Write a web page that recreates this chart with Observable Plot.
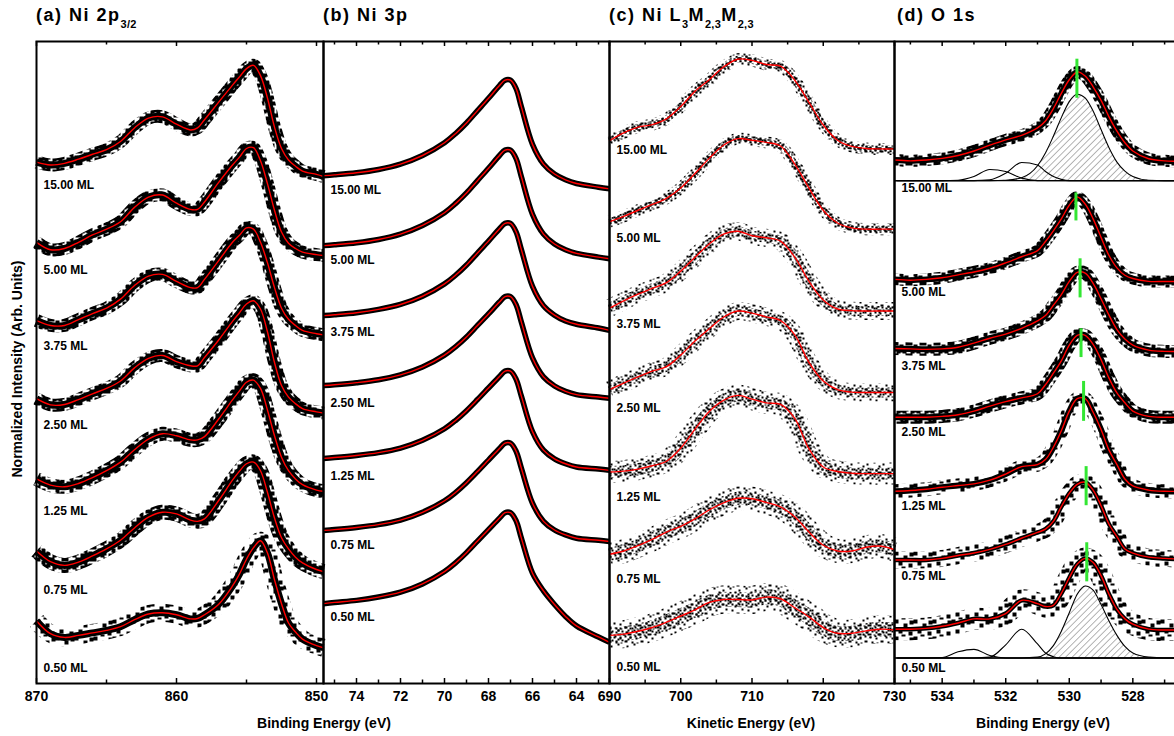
<!DOCTYPE html>
<html><head><meta charset="utf-8">
<script src="https://cdn.jsdelivr.net/npm/d3@7"></script>
<script src="https://cdn.jsdelivr.net/npm/@observablehq/plot@0.6"></script>
<style>
body{margin:0;background:#fff;font-family:"Liberation Sans",Arial,sans-serif;}
#root{position:relative;width:1174px;height:736px;overflow:hidden;background:#fff;}
.panel{position:absolute;top:41px;}
.t{position:absolute;top:5px;font-weight:bold;font-size:18px;line-height:20px;letter-spacing:1.5px;white-space:nowrap;color:#000;}
.t .sub{font-size:11px;position:relative;top:7px;letter-spacing:0.3px;}
.xt{position:absolute;top:715px;font-weight:bold;font-size:14px;line-height:16px;white-space:nowrap;transform:translateX(-50%);color:#000;}
.yt{position:absolute;left:17px;top:369px;font-weight:bold;font-size:14px;white-space:nowrap;transform:translate(-50%,-50%) rotate(-90deg);color:#000;}
</style></head>
<body><div id="root">
<div class="t" style="left:36px">(a) Ni 2p<span class="sub">3/2</span></div>
<div class="t" style="left:323px">(b) Ni 3p</div>
<div class="t" style="left:609px">(c) Ni L<span class="sub">3</span>M<span class="sub">2,3</span>M<span class="sub">2,3</span></div>
<div class="t" style="left:897px">(d) O 1s</div>
<div class="xt" style="left:324px">Binding Energy (eV)</div>
<div class="xt" style="left:751px">Kinetic Energy (eV)</div>
<div class="xt" style="left:1043px">Binding Energy (eV)</div>
<div class="yt">Normalized Intensity (Arb. Units)</div>
</div>
<script>
// ---------------- DATA ----------------
const coverage = ["15.00 ML","5.00 ML","3.75 ML","2.50 ML","1.25 ML","0.75 ML","0.50 ML"];

// (a) Ni 2p3/2 — binding energy (eV) and stacked intensities (arb. units)
const aEnergy = [870,869,868,867,866,865,864,863,862,861,860,859,858.5,858,857,856,855.5,855,854.5,854,853.5,853,852.5,852,851.5,851,850,849.5];
const aML1500 = [1267,1260,1264,1274,1286,1297,1317,1350,1374,1377,1359,1345,1350,1370,1412,1454,1474,1494,1502,1477,1422,1352,1300,1272,1257,1245,1237,1232];
const aML500  = [1072,1054,1057,1072,1090,1104,1122,1157,1182,1187,1167,1152,1152,1170,1217,1260,1279,1300,1302,1270,1214,1150,1097,1070,1057,1048,1042,1040];
const aML375  = [882,870,870,884,899,912,934,967,990,994,977,962,962,982,1027,1072,1089,1107,1104,1072,1022,962,912,885,870,858,850,847];
const aML250  = [692,677,678,690,704,717,735,767,790,797,782,772,772,792,834,880,901,922,930,910,854,780,724,696,680,668,660,657];
const aML125  = [497,482,478,486,500,517,538,568,594,607,602,592,592,600,642,689,711,732,737,717,664,602,550,517,497,483,470,467];
const aML075  = [322,296,287,295,310,327,348,378,404,416,412,397,394,400,444,494,516,534,538,517,464,402,354,327,307,293,277,272];
const aML050  = [152,121,112,117,123,129,138,155,169,172,167,157,158,167,192,237,266,302,330,347,317,252,194,147,125,108,92,87];

// (b) Ni 3p
const bEnergy = [75.5,75,74,73,72,71,70,69.5,69,68.5,68,67.5,67.25,67,66.75,66.5,66,65.5,65,64.5,64,63,62.5];
const bML1500 = [1234,1236,1241,1249,1262,1283,1314,1336,1362,1392,1422,1453,1466,1466,1446,1400,1310,1262,1238,1224,1215,1206,1202];
const bML500  = [1064,1066,1071,1079,1092,1113,1144,1166,1192,1222,1252,1283,1296,1296,1276,1230,1140,1092,1068,1054,1045,1036,1032];
const bML375  = [894,896,901,909,921,941,971,992,1017,1046,1075,1105,1118,1118,1098,1053,965,918,895,881,873,864,858];
const bML250  = [724,726,731,738,750,769,798,818,842,870,898,927,940,940,921,877,791,745,723,710,702,696,693];
const bML125  = [547,549,554,561,572,591,619,639,663,690,718,746,759,759,740,697,612,567,546,534,526,521,518];
const bML075  = [372,374,379,386,397,416,444,464,488,515,543,571,584,584,565,522,438,394,373,361,353,348,345];
const bML050  = [194,197,202,210,222,242,272,293,318,346,374,402,415,415,396,352,268,225,192,163,140,113,100];

// (c) Ni L3M2,3M2,3 — kinetic energy (eV)
const cEnergy = [690,692,694,696,698,700,702,704,706,708,710,712,714,716,718,720,722,724,726,728,730];
const cML1500 = [1319,1338,1352,1358,1372,1402,1439,1467,1498,1517,1514,1504,1500,1466,1412,1357,1320,1305,1300,1299,1299];
const cML500  = [1122,1135,1150,1164,1179,1204,1239,1276,1308,1324,1320,1315,1306,1262,1204,1150,1119,1107,1104,1104,1104];
const cML375  = [912,930,946,960,974,1002,1036,1068,1092,1099,1088,1083,1075,1036,977,932,910,906,905,905,905];
const cML250  = [714,730,745,759,770,798,832,862,890,905,900,891,882,847,780,735,714,708,707,707,707];
const cML125  = [514,516,521,529,540,572,618,661,688,700,691,682,678,644,570,526,515,511,510,510,510];
const cML075  = [314,322,335,350,368,382,400,422,439,450,449,440,429,405,368,336,322,322,331,334,325];
const cML050  = [117,120,127,136,149,164,179,197,204,204,203,210,206,184,162,136,122,122,128,132,130];

// (d) O 1s
const dEnergy = [535.5,535,534.5,534,533.5,533,532.5,532,531.5,531,530.75,530.5,530.25,530,529.75,529.5,529.25,529,528.75,528.5,528.25,528,527.5,527,526.5];
const dML1500 = [1272,1270,1272,1276,1283,1294,1308,1321,1332,1350,1367,1397,1434,1467,1486,1476,1450,1417,1377,1342,1314,1294,1275,1270,1269];
const dML500  = [982,980,982,986,993,1000,1009,1022,1037,1052,1074,1100,1129,1162,1182,1165,1129,1084,1040,1010,992,984,977,977,977];
const dML375  = [814,813,812,813,817,827,839,849,863,881,894,919,945,977,999,997,972,935,895,860,837,822,810,807,807];
const dML250  = [647,647,647,649,653,662,674,685,694,704,726,754,784,822,846,846,824,787,742,706,682,662,649,647,647];
const dML125  = [467,469,472,477,481,485,494,509,527,532,544,574,614,662,692,692,659,617,567,532,497,480,470,467,467];
const dML075  = [300,300,300,304,311,317,326,338,353,367,375,394,430,462,484,489,470,432,387,357,327,317,307,304,302];
const dML050  = [132,132,134,139,147,157,157,170,202,194,187,190,219,257,290,304,294,262,217,180,157,144,132,130,130];
// fitted components (15.00 ML and 0.50 ML) and their baselines
const dBase1500 = 1222, dBase050 = 62;
const dC1500Main = [1222,1222,1222,1222,1222,1222,1222,1223,1229,1258,1289,1330,1375,1414,1432,1423,1391,1346,1302,1267,1245,1232,1223,1222,1222];
const dC1500Mid  = [1222,1222,1222,1222,1222,1222,1224,1240,1266,1260,1244,1232,1225,1222,1222,1222,1222,1222,1222,1222,1222,1222,1222,1222,1222];
const dC1500Low  = [1222,1222,1222,1222,1223,1232,1249,1244,1228,1222,1222,1222,1222,1222,1222,1222,1222,1222,1222,1222,1222,1222,1222,1222,1222];
const dC050Main  = [62,62,62,62,62,62,62,62,62,64,72,92,127,172,217,237,227,192,152,117,90,74,64,62,62];
const dC050Mid   = [62,62,62,62,62,62,64,94,132,96,74,65,62,62,62,62,62,62,62,62,62,62,62,62,62];
const dC050Low   = [62,62,62,63,77,83,68,62,62,62,62,62,62,62,62,62,62,62,62,62,62,62,62,62,62];
// peak-position markers (green)
const dPeakE  = [529.76,529.79,529.66,529.63,529.55,529.47,529.45];
const dPeakLo = [1422,1124,937,792,637,432,247];
const dPeakHi = [1517,1192,1032,862,734,527,342];

// ---------------- LAYOUT / STYLE ----------------
const PH = 642;
const YDOM = [0, 1560];
const FONT = "Liberation Sans, Arial, sans-serif";
const root = document.getElementById("root");

// texture patterns used to paint the measured-data bands (squares / dots)
const PAINT = {sq: "#010101", sq2: "#050505", c1: "#020202", c2: "#030303", hatch: "#040404"};
const defsSvg = d3.select(root).append("svg").attr("width", 0).attr("height", 0).style("position", "absolute");
const defs = defsSvg.append("defs");
function pattern(id, w, h, pts, size) {
  const p = defs.append("pattern").attr("id", id).attr("patternUnits", "userSpaceOnUse").attr("width", w).attr("height", h);
  pts.forEach(([x, y]) => p.append("rect").attr("x", x).attr("y", y).attr("width", size).attr("height", size)
    .attr("fill", "black").attr("shape-rendering", "crispEdges"));
}
pattern("pSq", 14, 12, [[0,0],[5,3],[10,6],[2,8],[8,10],[11,0],[6,7]], 4);
pattern("pSq2", 19, 17, [[0,0],[9,4],[4,10],[14,12],[15,1],[7,15]], 4);
pattern("pC1", 10, 9, [[0,1],[5,0],[8,3],[2,4],[6,5],[0,7],[4,8],[8,7]], 2);
pattern("pC2", 16, 14, [[1,2],[8,0],[13,4],[4,7],[10,8],[15,11],[6,12],[0,11],[11,13]], 2);
const hp = defs.append("pattern").attr("id", "pHatch").attr("patternUnits", "userSpaceOnUse")
  .attr("width", 4.6).attr("height", 4.6).attr("patternTransform", "rotate(45)");
hp.append("line").attr("x1", 0).attr("y1", 0).attr("x2", 0).attr("y2", 4.6).attr("stroke", "#444").attr("stroke-width", 0.8);
const PAINT_URL = {[PAINT.sq]: "url(#pSq)", [PAINT.sq2]: "url(#pSq2)", [PAINT.c1]: "url(#pC1)", [PAINT.c2]: "url(#pC2)", [PAINT.hatch]: "url(#pHatch)"};

function toLong(energy, series) {
  const out = [];
  series.forEach((arr, s) => arr.forEach((v, j) => out.push({e: energy[j], v, s})));
  return out;
}

function buildPanel(cfg) {
  const long = toLong(cfg.energy, cfg.series);
  const marks = [];
  cfg.series.forEach((arr, s) => {
    const d = long.filter(p => p.s === s);
    cfg.band.forEach(b => {
      const w = typeof b.width === "function" ? b.width(s) : b.width;
      const paint = typeof b.paint === "function" ? b.paint(s) : b.paint;
      if (w > 0) marks.push(Plot.line(d, {x: "e", y: "v", stroke: paint, strokeWidth: w, curve: "catmull-rom", strokeLinejoin: "round", strokeLinecap: "butt"}));
    });
  });
  if (cfg.under) marks.push(...cfg.under);
  marks.push(Plot.line(long, {x: "e", y: "v", z: "s", stroke: "#ff0000", strokeWidth: 1.4, curve: "catmull-rom"}));
  if (cfg.over) marks.push(...cfg.over);
  marks.push(Plot.frame({stroke: "black", strokeWidth: 2}));
  marks.push(Plot.tickX(cfg.major, {x: d => d, insetTop: PH - 5, stroke: "black", strokeWidth: 1.5}));
  marks.push(Plot.tickX(cfg.major, {x: d => d, insetBottom: PH - 5, stroke: "black", strokeWidth: 1.5}));
  marks.push(Plot.tickX(cfg.minor, {x: d => d, insetTop: PH - 3.5, stroke: "black", strokeWidth: 1.5}));
  marks.push(Plot.tickX(cfg.minor, {x: d => d, insetBottom: PH - 3.5, stroke: "black", strokeWidth: 1.5}));
  marks.push(Plot.axisX(cfg.labels, {tickSize: 0, tickPadding: 8, fontSize: 14, fontWeight: "bold", fill: "black", tickFormat: d => String(d), label: null}));
  marks.push(Plot.text(coverage, {x: () => cfg.domain[0], y: (d, i) => cfg.labelY[i], text: d => d, dx: 7, textAnchor: "start", fontWeight: "bold", fontSize: 12, fill: "black"}));
  const svg = Plot.plot({
    width: cfg.width, height: PH + 30,
    marginTop: 0, marginBottom: 30, marginLeft: 0, marginRight: 0,
    x: {domain: cfg.domain},
    y: {domain: YDOM, axis: null},
    style: {overflow: "visible", background: "transparent", fontFamily: FONT, color: "black"},
    marks
  });
  Object.entries(PAINT_URL).forEach(([c, url]) => {
    d3.select(svg).selectAll(`[stroke="${c}"]`).attr("stroke", url);
    d3.select(svg).selectAll(`[fill="${c}"]`).attr("fill", url);
  });
  const div = document.createElement("div");
  div.className = "panel";
  div.style.left = cfg.left + "px";
  div.style.width = cfg.width + "px";
  div.appendChild(svg);
  root.appendChild(div);
  return svg;
}

// (a)
const aSpread = [13, 13, 13, 13, 14, 15, 18];
buildPanel({
  left: 36, width: 287, domain: [870, 849.5], energy: aEnergy,
  series: [aML1500, aML500, aML375, aML250, aML125, aML075, aML050],
  major: [870, 860, 850], minor: [865, 855], labels: [870, 860, 850],
  labelY: [1212, 1004, 819, 627, 419, 227, 37],
  band: [{paint: s => (s < 6 ? PAINT.sq : PAINT.sq2), width: s => aSpread[s]}, {paint: "black", width: 7}]
});

// (b)
buildPanel({
  left: 323, width: 286, domain: [75.5, 62.5], energy: bEnergy,
  series: [bML1500, bML500, bML375, bML250, bML125, bML075, bML050],
  major: [74, 72, 70, 68, 66, 64], minor: [75, 73, 71, 69, 67, 65, 63], labels: [74, 72, 70, 68, 66, 64],
  labelY: [1198, 1028, 853, 680, 505, 335, 160],
  band: [{paint: "black", width: 5.5}]
});

// (c)
const cSpread = [5, 5, 8, 8, 10, 11, 13];
buildPanel({
  left: 609, width: 285, domain: [690, 730], energy: cEnergy,
  series: [cML1500, cML500, cML375, cML250, cML125, cML075, cML050],
  major: [690, 700, 710, 720, 730], minor: [695, 705, 715, 725], labels: [690, 700, 710, 720, 730],
  labelY: [1297, 1082, 874, 669, 452, 254, 40],
  band: [{paint: PAINT.c2, width: s => 2 * cSpread[s] + 2}, {paint: PAINT.c1, width: s => cSpread[s] + 2}, {paint: PAINT.c1, width: s => (s < 2 ? 5 : 0)}]
});

// (d)
const dCompTop = [dC1500Main, dC1500Mid, dC1500Low], dCompBot = [dC050Main, dC050Mid, dC050Low];
const compRows = (arrs, base) => arrs.flatMap((arr, c) => arr.map((v, j) => ({e: dEnergy[j], v, c, base})));
const comps = compRows(dCompTop, dBase1500).concat(compRows(dCompBot, dBase050).map(r => ({...r, c: r.c + 3})));
const mainComps = comps.filter(r => r.c === 0 || r.c === 3);
const dSpread = [12, 12, 13, 13, 14, 17, 22];
buildPanel({
  left: 894, width: 286, domain: [535.5, 526.5], energy: dEnergy,
  series: [dML1500, dML500, dML375, dML250, dML125, dML075, dML050],
  major: [534, 532, 530, 528], minor: [535, 533, 531, 529, 527], labels: [534, 532, 530, 528],
  labelY: [1204, 952, 772, 610, 432, 260, 37],
  band: [{paint: s => (s < 4 ? PAINT.sq : PAINT.sq2), width: s => dSpread[s]}, {paint: "black", width: s => (s < 5 ? 6 : 4.5)}],
  under: [
    Plot.areaY(mainComps, {x: "e", y1: "base", y2: "v", z: "c", fill: PAINT.hatch, curve: "monotone-x"}),
    Plot.line(comps, {x: "e", y: "v", z: "c", stroke: "black", strokeWidth: 1.1, curve: "monotone-x"}),
    Plot.ruleY([dBase1500, dBase050], {x1: 535.4, x2: 526.5, stroke: "black", strokeWidth: 1.3})
  ],
  over: [
    Plot.ruleX(dPeakE, {x: d => d, y1: (d, i) => dPeakLo[i], y2: (d, i) => dPeakHi[i], stroke: "#33e633", strokeWidth: 3})
  ]
});
</script>
</body></html>
